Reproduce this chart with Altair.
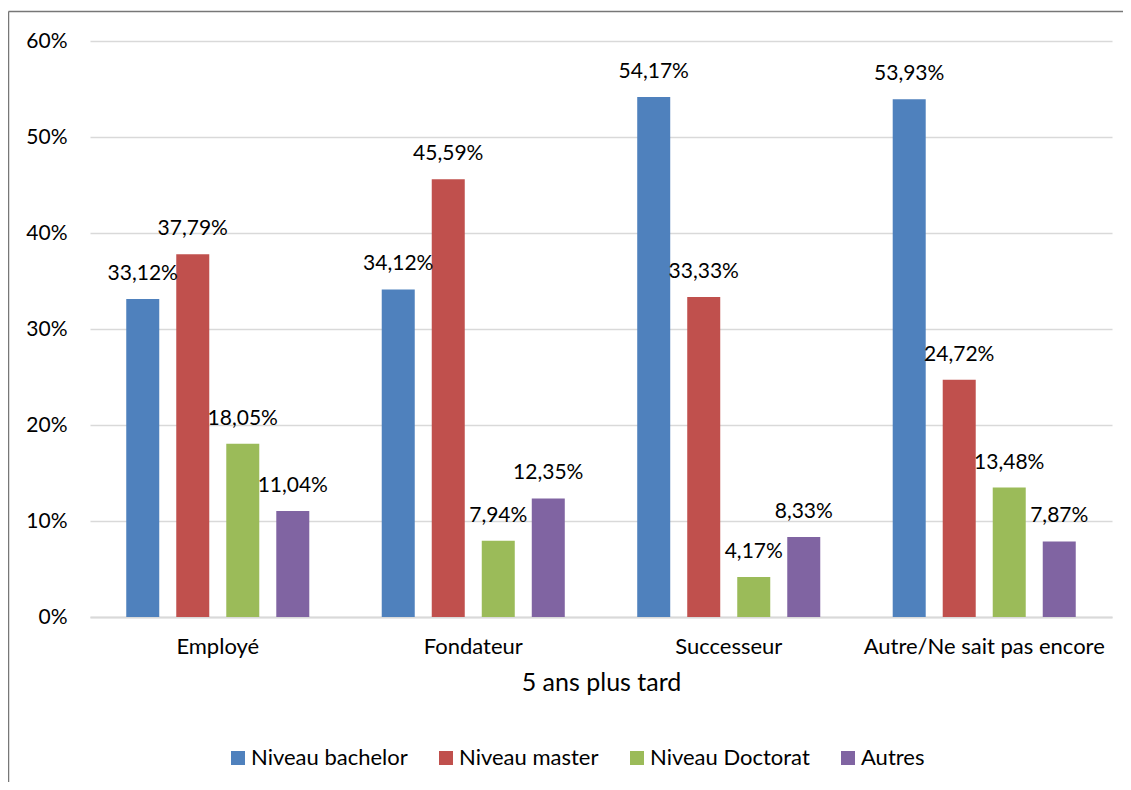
import altair as alt
import pandas as pd

categories = ["Employé", "Fondateur", "Successeur", "Autre/Ne sait pas encore"]
series = ["Niveau bachelor", "Niveau master", "Niveau Doctorat", "Autres"]
bachelor = [33.12, 34.12, 54.17, 53.93]
master = [37.79, 45.59, 33.33, 24.72]
doctorat = [18.05, 7.94, 4.17, 13.48]
autres = [11.04, 12.35, 8.33, 7.87]
colors = ["#4f81bd", "#c0504d", "#9bbb59", "#8064a2"]
y_ticks = [0, 10, 20, 30, 40, 50, 60]

rows = []
for s, vals in zip(series, [bachelor, master, doctorat, autres]):
    for c, v in zip(categories, vals):
        rows.append({"cat": c, "serie": s, "val": v})
df = pd.DataFrame(rows)

FONT = "Lato"

x = alt.X("cat:N", sort=categories, title="5 ans plus tard",
          scale=alt.Scale(paddingInner=0.217, paddingOuter=0.1086),
          axis=alt.Axis(labelAngle=0, ticks=False, domain=True, domainColor="#d9d9d9",
                        domainWidth=2, labelPadding=19, titlePadding=13, labelLimit=0,
                        labelFontSize=22, titleFontSize=25, titleFontWeight="normal",
                        labelColor="#000000", titleColor="#000000"))
xo = alt.XOffset("serie:N", sort=series,
                 scale=alt.Scale(paddingInner=0.34, paddingOuter=0.17))
y = alt.Y("val:Q", title=None,
          scale=alt.Scale(domain=[0, 60], nice=False),
          axis=alt.Axis(values=y_ticks, labelExpr="datum.value + '%'", ticks=False,
                        domain=False, gridColor="#d9d9d9", gridWidth=1.5,
                        labelPadding=23, labelFontSize=21, labelColor="#000000"))
color = alt.Color("serie:N", sort=series,
                  scale=alt.Scale(domain=series, range=colors),
                  legend=alt.Legend(title=None, orient="none", direction="horizontal",
                                    legendX=137, legendY=706, symbolType="square",
                                    symbolSize=196, symbolStrokeWidth=0,
                                    labelFontSize=22, labelOffset=2, columnPadding=27,
                                    labelLimit=0, labelColor="#000000"))

base = alt.Chart(df).encode(x=x, xOffset=xo)

bars = base.mark_bar().encode(y=y, color=color)

labels = base.transform_calculate(
    lbl="replace(format(datum.val, '.2f'), '.', ',') + '%'"
).mark_text(baseline="alphabetic", dy=-19, fontSize=21, font=FONT, color="#000000").encode(
    y=alt.Y("val:Q"), text="lbl:N")

frame = pd.DataFrame({"k": [0]})
top_border = alt.Chart(frame).mark_rule(color="#777777", strokeWidth=1.5).encode(
    x=alt.value(-81.5), x2=alt.value(1045), y=alt.value(-29.5))
left_border = alt.Chart(frame).mark_rule(color="#777777", strokeWidth=1.5).encode(
    x=alt.value(-81.5), y=alt.value(-29.5), y2=alt.value(760))

chart = alt.layer(bars, labels, top_border, left_border).properties(
    width=1022, height=576,
    autosize=alt.AutoSizeParams(type="none"),
    padding={"left": 82, "top": 33, "right": 11, "bottom": 165},
).configure(font=FONT).configure_view(stroke=None)

chart.save("out.html", embed_options={"renderer": "svg", "actions": False})
